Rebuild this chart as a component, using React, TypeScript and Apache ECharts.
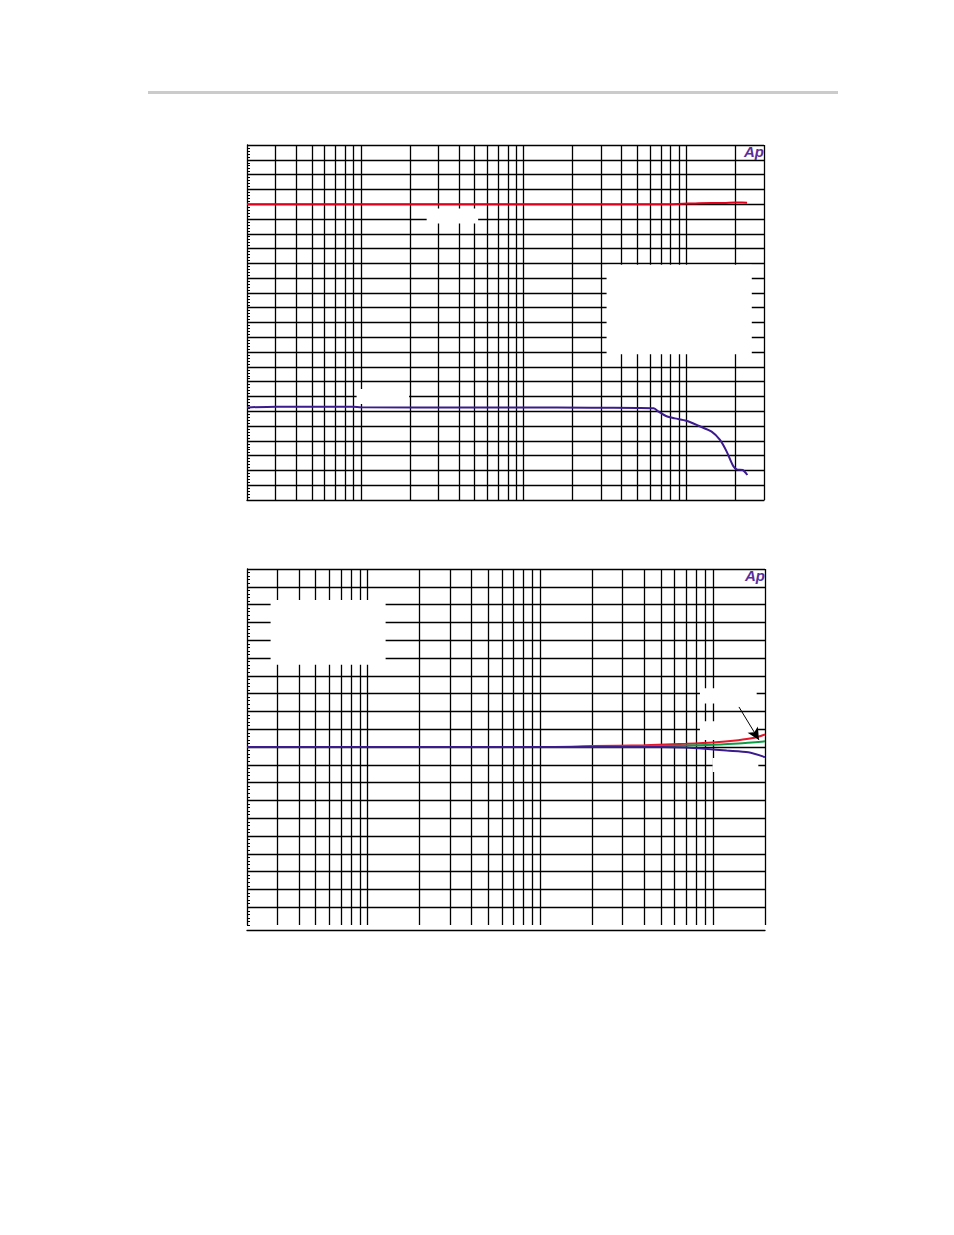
import React, { useEffect, useRef } from "react";
import * as echarts from "echarts";

// ---------- Chart 1 (top) ----------
const C1_RED_FREQ = [20, 1000, 5000, 8200, 12000, 17000, 20000, 22000, 23600];
const C1_RED_VAL = [20, 20, 20, 20.0, 20.07, 20.08, 20.12, 20.12, 20.1];

const C1_PURPLE_FREQ = [20, 30, 50, 90, 100, 500, 1000, 2600, 5000, 6300, 6800, 7500, 8500, 10000, 12000, 14300, 16100, 17700, 19400, 20400, 22200, 23700];
const C1_PURPLE_VAL = [6.26, 6.31, 6.31, 6.31, 6.27, 6.26, 6.26, 6.24, 6.22, 6.2, 5.95, 5.68, 5.52, 5.36, 5.0, 4.62, 4.06, 3.27, 2.3, 2.07, 2.03, 1.69];

const C1_X_GRID = [30, 40, 50, 60, 70, 80, 90, 100, 200, 300, 400, 500, 600, 700, 800, 900, 1000, 2000, 3000, 4000, 5000, 6000, 7000, 8000, 9000, 10000, 20000, 30000];
const C1_Y_GRID = [1, 2, 3, 4, 5, 6, 7, 8, 9, 10, 11, 12, 13, 14, 15, 16, 17, 18, 19, 20, 21, 22, 23, 24];
const C1_BLANKS = [
  [[254, 19.7], [526, 18.69]],
  [[3236, 15.9], [25240, 9.85]],
  [[94.3, 7.5], [198, 6.49]],
];

// ---------- Chart 2 (bottom) ----------
const C2_RED_FREQ = [20, 1000, 2000, 4000, 7000, 10000, 14000, 17000, 20000];
const C2_RED_VAL = [0, 0, 0.005, 0.01, 0.018, 0.025, 0.038, 0.05, 0.07];
const C2_GREEN_FREQ = [20, 2000, 4000, 7000, 10000, 14000, 20000];
const C2_GREEN_VAL = [0, 0, 0.004, 0.008, 0.013, 0.02, 0.032];
const C2_PURPLE_FREQ = [20, 1000, 5000, 7000, 9000, 12000, 16000, 20000];
const C2_PURPLE_VAL = [0, 0, 0, -0.003, -0.01, -0.02, -0.03, -0.057];

const C2_X_GRID = [30, 40, 50, 60, 70, 80, 90, 100, 200, 300, 400, 500, 600, 700, 800, 900, 1000, 2000, 3000, 4000, 5000, 6000, 7000, 8000, 9000, 10000, 20000];
const C2_Y_GRID = [-0.9, -0.8, -0.7, -0.6, -0.5, -0.4, -0.3, -0.2, -0.1, 0, 0.1, 0.2, 0.3, 0.4, 0.5, 0.6, 0.7, 0.8, 0.9, 1.0];
const C2_BLANKS = [
  [[27.4, 0.826], [127, 0.462]],
  [[8400, 0.33], [17900, 0.245]],
  [[8400, 0.145], [17900, 0.039]],
  [[9940, -0.062], [18300, -0.14]],
];
const C2_ARROW = [[14130, 0.225], [18450, 0.04]];

const zip = (xs: number[], ys: number[]) => xs.map((x, i) => [x, ys[i]]);

const GRID_W = 1.3;

function gridSeries(idx: number, xs: number[], ys: number[]) {
  return {
    type: "line",
    xAxisIndex: idx,
    yAxisIndex: idx,
    data: [],
    z: 1,
    silent: true,
    markLine: {
      z: 1,
      silent: true,
      symbol: ["none", "none"],
      label: { show: false },
      animation: false,
      lineStyle: { color: "#000", width: GRID_W, type: "solid" },
      emphasis: { disabled: true },
      data: [...xs.map((v) => ({ xAxis: v })), ...ys.map((v) => ({ yAxis: v }))],
    },
  };
}

function blankSeries(idx: number, boxes: number[][][]) {
  return {
    type: "line",
    xAxisIndex: idx,
    yAxisIndex: idx,
    data: [],
    z: 2,
    silent: true,
    markArea: {
      z: 2,
      silent: true,
      animation: false,
      itemStyle: { color: "#ffffff", borderWidth: 0, opacity: 1 },
      label: { show: false },
      emphasis: { disabled: true },
      data: boxes.map((b) => [{ coord: b[0] }, { coord: b[1] }]),
    },
  };
}

function curve(idx: number, xs: number[], ys: number[], color: string) {
  return {
    type: "line",
    xAxisIndex: idx,
    yAxisIndex: idx,
    data: zip(xs, ys),
    z: 3,
    showSymbol: false,
    smooth: 0.25,
    silent: true,
    lineStyle: { color, width: 2 },
  };
}

function xAxis(idx: number, max: number, offset: number) {
  return {
    type: "log",
    logBase: 10,
    gridIndex: idx,
    position: "bottom",
    min: 20,
    max,
    offset,
    axisLine: { show: true, onZero: false, lineStyle: { color: "#000", width: GRID_W } },
    axisTick: { show: false },
    axisLabel: { show: false },
    splitLine: { show: false },
  };
}

function yAxis(idx: number, min: number, max: number, interval: number) {
  return {
    type: "value",
    gridIndex: idx,
    min,
    max,
    interval,
    axisLine: { show: true, onZero: false, lineStyle: { color: "#000", width: GRID_W } },
    axisTick: { show: true, inside: true, length: 3, lineStyle: { color: "#000" } },
    minorTick: { show: true, splitNumber: 5, length: 3, lineStyle: { color: "#000", width: 1 } },
    axisLabel: { show: false },
    splitLine: { show: false },
  };
}

const AP_FONT = "italic bold 15px 'Liberation Sans', Arial, sans-serif";

export default function App() {
  const ref = useRef<HTMLDivElement>(null);
  useEffect(() => {
    if (!ref.current) return;
    const chart = echarts.init(ref.current, null, { renderer: "svg" });
    const option: any = {
      animation: false,
      backgroundColor: "#ffffff",
      grid: [
        { left: 247, top: 145, width: 517, height: 355 },
        { left: 247, top: 569, width: 518, height: 356 },
      ],
      xAxis: [xAxis(0, 30000, 0), xAxis(1, 20000, 5)],
      yAxis: [yAxis(0, 0, 24, 1), yAxis(1, -1, 1, 0.1)],
      series: [
        gridSeries(0, C1_X_GRID, C1_Y_GRID),
        blankSeries(0, C1_BLANKS),
        curve(0, C1_RED_FREQ, C1_RED_VAL, "#e0001b"),
        curve(0, C1_PURPLE_FREQ, C1_PURPLE_VAL, "#3b1b8e"),
        gridSeries(1, C2_X_GRID, C2_Y_GRID),
        blankSeries(1, C2_BLANKS),
        curve(1, C2_RED_FREQ, C2_RED_VAL, "#e6162b"),
        curve(1, C2_GREEN_FREQ, C2_GREEN_VAL, "#0c9c46"),
        curve(1, C2_PURPLE_FREQ, C2_PURPLE_VAL, "#3b1b8e"),
        {
          type: "line",
          xAxisIndex: 1,
          yAxisIndex: 1,
          data: [],
          z: 4,
          silent: true,
          markLine: {
            z: 4,
            silent: true,
            animation: false,
            label: { show: false },
            lineStyle: { color: "#000", width: 1, type: "solid" },
            emphasis: { disabled: true },
            data: [
              [
                { coord: C2_ARROW[0], symbol: "none" },
                { coord: C2_ARROW[1], symbol: "arrow", symbolSize: [9, 12] },
              ],
            ],
          },
        },
      ],
      graphic: [
        { type: "rect", shape: { x: 148, y: 91, width: 690, height: 3 }, style: { fill: "#cbcbcb" }, silent: true },
        {
          type: "text",
          x: 764,
          y: 144,
          z: 10,
          style: { text: "Ap", fill: "#5a2d9c", font: AP_FONT, align: "right", verticalAlign: "top" },
          silent: true,
        },
        {
          type: "text",
          x: 765,
          y: 568,
          z: 10,
          style: { text: "Ap", fill: "#5a2d9c", font: AP_FONT, align: "right", verticalAlign: "top" },
          silent: true,
        },
      ],
    };
    chart.setOption(option);
    return () => chart.dispose();
  }, []);
  return (
    <div
      ref={ref}
      style={{ position: "absolute", left: 0, top: 0, width: 954, height: 1235, background: "#fff" }}
    />
  );
}
